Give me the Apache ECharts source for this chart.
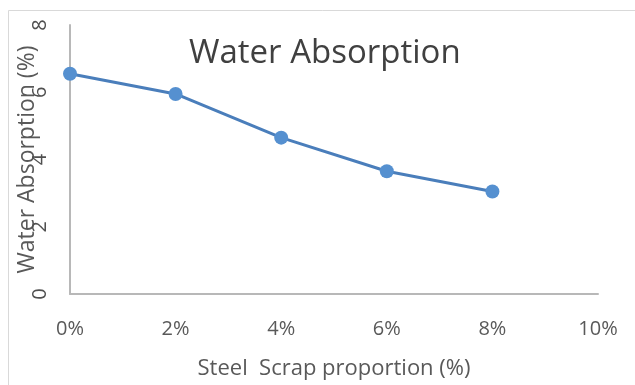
<!DOCTYPE html>
<html>
<head>
    <title>Water Absorption</title>
    <script src="https://cdn.jsdelivr.net/npm/echarts@6/dist/echarts.min.js" type="text/javascript"></script>
</head>
<body style="margin:0">
<div id="chart" style="width:635px;height:385px;"></div>
<script type="text/javascript">
// steel scrap proportion and measured water absorption
var xLabels = ['0%', '2%', '4%', '6%', '8%', '10%'];
var absorption = [6.55, 5.95, 4.65, 3.65, 3.05];
var yTicks = [0, 2, 4, 6, 8];

var font = '"Open Sans", "Noto Sans", sans-serif';
var myChart = echarts.init(document.getElementById('chart'));
var option = {
    animation: false,
    backgroundColor: '#fff',
    graphic: [{
        type: 'rect',
        shape: { x: 8.5, y: 10.5, width: 700, height: 400 },
        style: { fill: 'none', stroke: '#d9d9d9', lineWidth: 1 }
    }],
    title: {
        text: 'Water Absorption',
        left: 184,
        top: 22,
        textStyle: { fontFamily: font, fontSize: 33, fontWeight: 'normal', color: '#404040' }
    },
    grid: { left: 70, right: 37, top: 25, bottom: 91, outerBoundsMode: 'none' },
    xAxis: {
        type: 'category',
        data: xLabels,
        boundaryGap: false,
        name: 'Steel  Scrap proportion (%)',
        nameLocation: 'middle',
        nameGap: 57,
        nameMoveOverlap: false,
        nameTextStyle: { fontFamily: font, fontSize: 22, color: '#595959' },
        axisLine: { lineStyle: { color: '#b8b8b8', width: 2 } },
        axisTick: { show: false },
        axisLabel: { fontFamily: font, fontSize: 20, color: '#595959', margin: 19 },
        splitLine: { show: false }
    },
    yAxis: {
        type: 'value',
        min: yTicks[0],
        max: yTicks[yTicks.length - 1],
        interval: 2,
        name: 'Water Absorption (%)',
        nameLocation: 'middle',
        nameGap: 24,
        nameMoveOverlap: false,
        nameTextStyle: { fontFamily: font, fontSize: 23, color: '#595959' },
        axisLine: { show: true, lineStyle: { color: '#b8b8b8', width: 2 } },
        axisTick: { show: false },
        axisLabel: { fontFamily: font, fontSize: 20, color: '#505050', margin: 13, rotate: 90 },
        splitLine: { show: false }
    },
    series: [{
        type: 'line',
        data: absorption,
        symbol: 'circle',
        symbolSize: 14,
        lineStyle: { color: '#4a7ebb', width: 3 },
        itemStyle: { color: '#5590d0' }
    }]
};
myChart.setOption(option);
</script>
</body>
</html>
